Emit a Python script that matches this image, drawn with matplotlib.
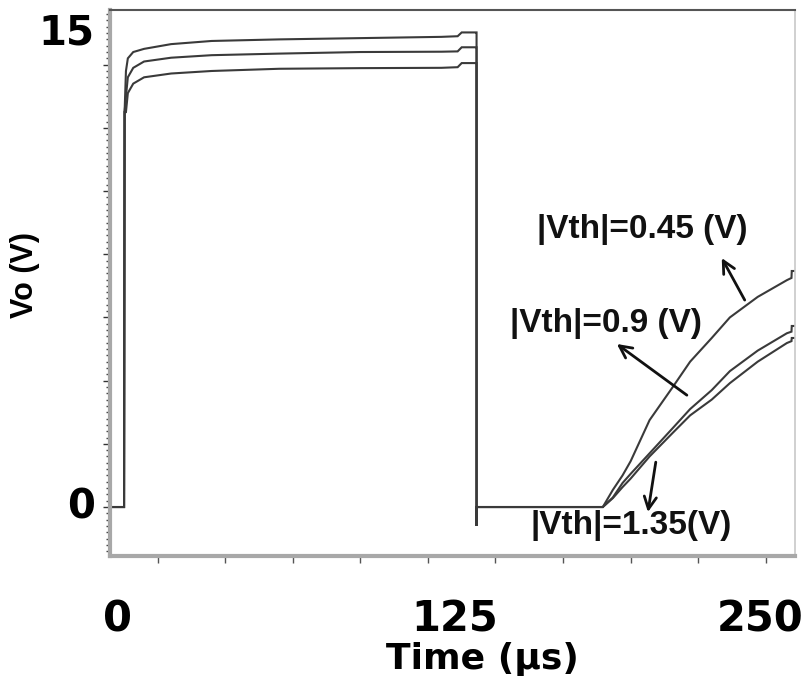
import numpy as np
import matplotlib
matplotlib.use("Agg")
import matplotlib.pyplot as plt
from matplotlib.ticker import MultipleLocator, FixedLocator

plt.rcParams['font.family'] = ['Liberation Sans', 'DejaVu Sans']
plt.rcParams['font.weight'] = 'bold'

# Vo(t), time in us, voltage in V
t_high_on = [-1.9, 2.6, 2.8, 3.3, 4.0, 6.0, 10.0, 20.0, 35.0, 60.0, 90.0, 120.0, 126.0, 127.5, 132.8]
vo_045_on = [0.0, 0.0, 12.5, 13.8, 14.2, 14.4, 14.5, 14.65, 14.75, 14.8, 14.84, 14.88, 14.9, 15.02, 15.02]
vo_09_on = [0.0, 0.0, 12.5, 13.0, 13.6, 13.9, 14.1, 14.22, 14.3, 14.35, 14.4, 14.41, 14.42, 14.55, 14.55]
vo_135_on = [0.0, 0.0, 12.5, 12.5, 13.1, 13.4, 13.6, 13.72, 13.8, 13.87, 13.89, 13.9, 13.92, 14.05, 14.05]

t_low = [133.0, 133.0, 133.0, 179.7]
vo_low = [None, -0.6, 0.0, 0.0]

t_rise = [179.7, 183.4, 187.0, 190.0, 197.0, 205.6, 212.0, 220.0, 226.7, 237.0, 247.8, 249.5, 249.6, 251.0]
vo_045_rise = [0.0, 0.54, 1.0, 1.45, 2.75, 3.8, 4.6, 5.35, 6.0, 6.65, 7.18, 7.25, 7.47, 7.47]
vo_09_rise = [0.0, 0.3, 0.76, 1.05, 1.7, 2.5, 3.1, 3.7, 4.3, 4.95, 5.5, 5.55, 5.73, 5.73]
vo_135_rise = [0.0, 0.28, 0.63, 0.9, 1.6, 2.35, 2.9, 3.4, 3.92, 4.6, 5.19, 5.25, 5.35, 5.35]

labels = ['|Vth|=0.45 (V)', '|Vth|=0.9 (V)', '|Vth|=1.35(V)']
label_xy = [(194.2, 8.77), (180.8, 5.82), (190.1, -0.57)]
arrow_tail = [(232.2, 6.55), (210.8, 3.54), (199.3, 1.42)]
arrow_head = [(223.7, 7.88), (184.9, 5.16), (196.4, -0.16)]

x_ticklabels = [0, 125, 250]
y_ticklabels = [0, 15]

fig = plt.figure(figsize=(8.11, 6.86), dpi=100)
ax = fig.add_axes([110 / 811, 1 - 556 / 686, 685 / 811, 546 / 686])

line_color = '#3a3a3a'
for on, rise in [(vo_045_on, vo_045_rise), (vo_09_on, vo_09_rise), (vo_135_on, vo_135_rise)]:
    t = t_high_on + t_low + t_rise
    v = on + [on[-1]] + vo_low[1:] + rise
    ax.plot(t, v, color=line_color, linewidth=1.5, solid_joinstyle='miter')

for text, xy, tail, head in zip(labels, label_xy, arrow_tail, arrow_head):
    ax.text(xy[0], xy[1], text, fontsize=24, fontweight='bold',
            ha='center', va='center', color='#111111')
    ax.annotate('', xy=head, xytext=tail,
                arrowprops=dict(arrowstyle='->', color='#111111', lw=2,
                                mutation_scale=22, shrinkA=0, shrinkB=0))

ax.set_xlim(-2.6, 250.8)
ax.set_ylim(-1.55, 15.73)

# y axis: labels only at 0 and 15, ticks every 2 V and minor every 0.2 V
ax.yaxis.set_major_locator(FixedLocator(np.arange(0, 15, 2)))
ax.yaxis.set_minor_locator(MultipleLocator(0.2))
ax.set_yticklabels([])
ax.tick_params(axis='y', which='major', direction='out', length=5, width=1, color='#333333')
ax.tick_params(axis='y', which='minor', direction='out', length=3, width=1, color='#444444')
for val in y_ticklabels:
    ax.text(-0.022, val, str(val), transform=ax.get_yaxis_transform(),
            ha='right', va='center', fontsize=29, fontweight='bold',
            family='DejaVu Sans')

# x axis: tick marks, labels at 0, 125, 250
ax.xaxis.set_major_locator(FixedLocator([15, 40, 65, 90, 115, 140, 165, 190, 215, 240]))
ax.set_xticklabels([])
ax.tick_params(axis='x', which='major', direction='out', length=5, width=1, color='#555555', pad=2)
for val in x_ticklabels:
    ha = 'right' if val == x_ticklabels[-1] else 'center'
    xpos = val + 4 if val == x_ticklabels[-1] else val
    ax.text(xpos, -0.117, str(val), transform=ax.get_xaxis_transform(),
            ha=ha, va='center', fontsize=30, fontweight='bold',
            family='DejaVu Sans')

ax.set_ylabel('Vo (V)', fontsize=22, fontweight='bold')
ax.yaxis.set_label_coords(-0.102, 0.515)
ax.set_xlabel('Time (μs)', fontsize=26, fontweight='bold', family='DejaVu Sans')
ax.xaxis.set_label_coords((482 - 110) / 685, -0.157)

ax.spines['left'].set_color('#a8a8a8')
ax.spines['left'].set_linewidth(3)
ax.spines['bottom'].set_color('#a8a8a8')
ax.spines['bottom'].set_linewidth(3)
ax.spines['top'].set_color('#555555')
ax.spines['top'].set_linewidth(1.5)
ax.spines['right'].set_color('#c8c8c8')
ax.spines['right'].set_linewidth(1.2)

fig.savefig('out.png', dpi=100)
